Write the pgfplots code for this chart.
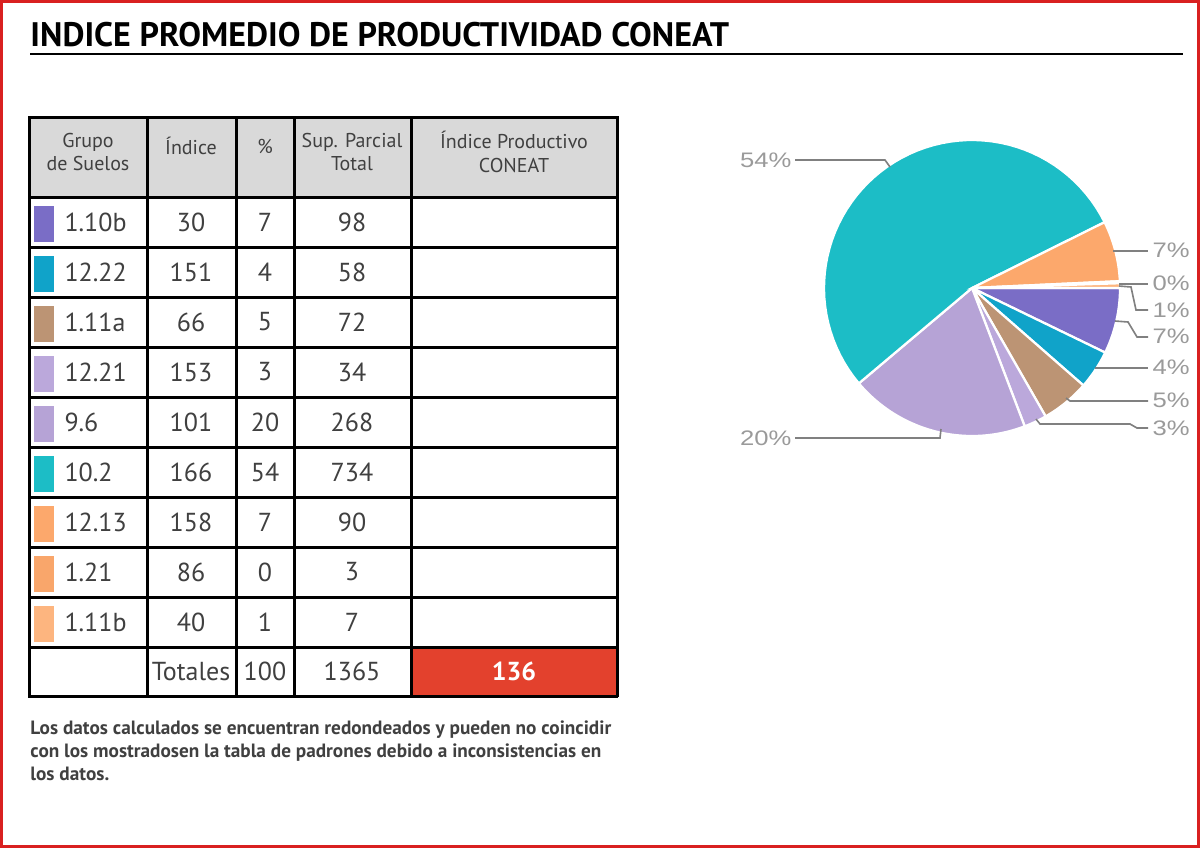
\documentclass[border=0pt]{standalone}
\usepackage{pgfplots}
\pgfplotsset{compat=1.18}
\usepackage{pgfplotstable}
\usepackage{graphicx}
\usepackage{fontspec}
\setmainfont{PT Sans}
\newfontfamily\piefont{Liberation Sans}

\definecolor{cA}{HTML}{7A6DC6}
\definecolor{cB}{HTML}{10A3C9}
\definecolor{cC}{HTML}{BC9474}
\definecolor{cD}{HTML}{BBA8DB}
\definecolor{cE}{HTML}{B6A3D6}
\definecolor{cF}{HTML}{1CBDC6}
\definecolor{cG}{HTML}{FCA86C}
\definecolor{cH}{HTML}{F9A66B}
\definecolor{cI}{HTML}{FDB57F}
\definecolor{hdr}{HTML}{D9D9D9}
\definecolor{redcell}{HTML}{E3412D}
\definecolor{frame}{HTML}{D92020}
\definecolor{txt}{HTML}{404040}
\definecolor{lbl}{HTML}{9A9A9A}
\definecolor{lead}{HTML}{808080}

% grupo, indice, %, superficie parcial, color
\pgfplotstableread{
grupo indice pct sup col
1.10b 30 7 98 cA
12.22 151 4 58 cB
1.11a 66 5 72 cC
12.21 153 3 34 cD
9.6 101 20 268 cE
10.2 166 54 734 cF
12.13 158 7 90 cG
1.21 86 0 3 cH
1.11b 40 1 7 cI
}\suelos

\newcommand\pl[1]{\scalebox{1.22}[1]{#1\%}}

\begin{document}
\begin{tikzpicture}[x=0.4pt,y=-0.4pt]
% page and frame
\fill[white] (0,0) rectangle (1200,848);
\draw[frame, line width=1.2pt] (1.5,1.5) rectangle (1198.5,846.5);

% title
\node[anchor=base west, inner sep=0, font=\bfseries\fontsize{13.6}{15}\selectfont] at (30,46)
  {INDICE PROMEDIO DE PRODUCTIVIDAD CONEAT};
\draw[line width=0.6pt] (30,54) -- (1183,54);

% table
\fill[hdr] (29,117) rectangle (617,197);
\fill[redcell] (411,647) rectangle (617,696);
\foreach \yy in {117,197,247,297,347,397,447,497,547,597,647,696}
  \draw[line width=1.2pt] (28,\yy) -- (618,\yy);
\foreach \xx in {29,147,236,294,411,617}
  \draw[line width=1.2pt] (\xx,116) -- (\xx,697);

\begin{scope}[every node/.style={text=txt, font=\fontsize{8}{9.4}\selectfont, align=center, inner sep=0}]
\node at (88,152) {Grupo\\de Suelos};
\node at (191,146) {Índice};
\node at (265,146) {\%};
\node at (352,152) {Sup. Parcial\\Total};
\node at (514,152) {Índice Productivo\\CONEAT};
\end{scope}

\foreach \i in {0,...,8}{
  \pgfplotstablegetelem{\i}{grupo}\of\suelos \let\gr\pgfplotsretval
  \pgfplotstablegetelem{\i}{indice}\of\suelos \let\ind\pgfplotsretval
  \pgfplotstablegetelem{\i}{pct}\of\suelos \let\pc\pgfplotsretval
  \pgfplotstablegetelem{\i}{sup}\of\suelos \let\su\pgfplotsretval
  \pgfplotstablegetelem{\i}{col}\of\suelos \let\co\pgfplotsretval
  \pgfmathsetmacro\rtop{197+50*\i}
  \pgfmathsetmacro\rmid{\rtop+25}
  \fill[\co] (34,\rtop+9) rectangle (54,\rtop+45);
  \begin{scope}[every node/.style={text=txt, font=\fontsize{10.4}{12}\selectfont, inner sep=0}]
  \node[anchor=west] at (64,\rmid) {\gr};
  \node at (191,\rmid) {\ind};
  \node at (265,\rmid) {\pc};
  \node at (352,\rmid) {\su};
  \end{scope}
}
\begin{scope}[every node/.style={text=txt, font=\fontsize{10.4}{12}\selectfont, inner sep=0}]
\node at (191,671.5) {Totales};
\node at (265,671.5) {100};
\node at (352,671.5) {1365};
\node[text=white, font=\bfseries\fontsize{10.4}{12}\selectfont] at (514,671.5) {136};
\end{scope}

% footnote
\begin{scope}[every node/.style={anchor=base west, inner sep=0, text=txt, font=\bfseries\fontsize{7.7}{9}\selectfont}]
\node at (30,734) {Los datos calculados se encuentran redondeados y pueden no coincidir};
\node at (30,757) {con los mostradosen la tabla de padrones debido a inconsistencias en};
\node at (30,780) {los datos.};
\end{scope}

% pie, centre at (972,288) px = (388.8pt,-115.2pt)
\begin{axis}[at={(388.8pt,-115.2pt)}, anchor=origin, x=0.4pt, y=0.4pt,
  xmin=-150, xmax=150, ymin=-150, ymax=150, hide axis, clip=false]
\def\acc{0}
\pgfplotsforeachungrouped \i in {0,...,8}{%
  \pgfplotstablegetelem{\i}{sup}\of\suelos \let\v\pgfplotsretval
  \pgfplotstablegetelem{\i}{col}\of\suelos \let\c\pgfplotsretval
  \pgfmathsetmacro\a{-\acc/1364*360}%
  \pgfmathsetmacro\b{-(\acc+\v)/1364*360}%
  \edef\temp{\noexpand\addplot[fill=\c, draw=white, line width=0.9pt, domain=\b:\a, samples=60]
    ({148*cos(x)},{148*sin(x)}) -- (axis cs:0,0) -- cycle;}%
  \temp
  \pgfmathsetmacro\acc{\acc+\v}%
}
\end{axis}

% leader lines
\begin{scope}[lead, line width=0.65pt]
\draw (795,160) -- (885,160) -- (890,167);
\draw (795,438) -- (940,438) -- (941,429);
\draw (1113,251) -- (1148,251);
\draw (1119,284) -- (1148,284);
\draw (1119,286) -- (1131,287) -- (1136,310) -- (1148,310);
\draw (1115,321) -- (1128,322) -- (1137,337) -- (1148,337);
\draw (1095,368) -- (1148,368);
\draw (1066,398) -- (1070,401) -- (1148,401);
\draw (1036,419) -- (1040,424) -- (1130,424) -- (1137,428) -- (1148,428);
\end{scope}

\begin{scope}[every node/.style={text=lbl, inner sep=0, font=\piefont\fontsize{8.4}{10}\selectfont}]
\node[anchor=east] at (792,160) {\pl{54}};
\node[anchor=east] at (792,438) {\pl{20}};
\node[anchor=west] at (1152,250) {\pl{7}};
\node[anchor=west] at (1152,283) {\pl{0}};
\node[anchor=west] at (1152,310) {\pl{1}};
\node[anchor=west] at (1152,336) {\pl{7}};
\node[anchor=west] at (1152,367) {\pl{4}};
\node[anchor=west] at (1152,400) {\pl{5}};
\node[anchor=west] at (1152,428) {\pl{3}};
\end{scope}
\end{tikzpicture}
\end{document}
